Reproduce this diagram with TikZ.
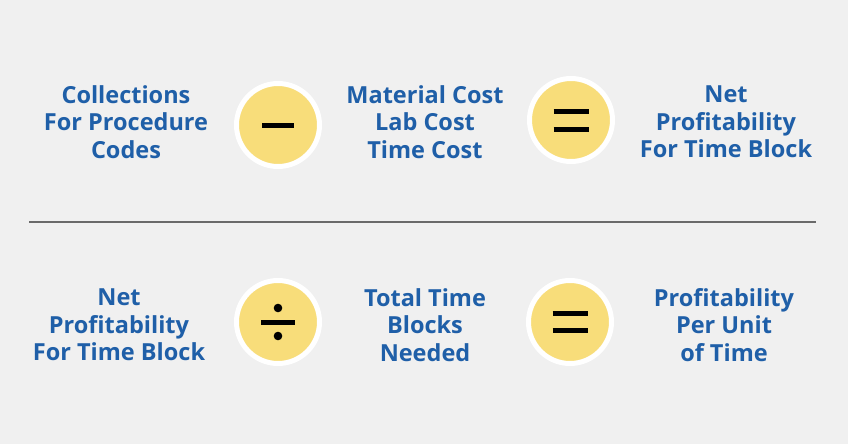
\documentclass[tikz,border=0pt]{standalone}
\usepackage{fontspec}
\setmainfont{Open Sans}
\begin{document}
\begin{tikzpicture}[x=1pt,y=-1pt,
  lbl/.style={align=center,text=txtblue,font=\fontsize{23.5}{27.5}\selectfont\bfseries,inner sep=0pt},
  opcircle/.style={circle,fill=opyellow,draw=white,line width=5pt,minimum size=83pt,inner sep=0pt},
  bar/.style={line width=5pt,black}]
\definecolor{bg}{HTML}{F0F0F0}
\definecolor{txtblue}{HTML}{1F5FA8}
\definecolor{opyellow}{HTML}{F8DD7A}
\definecolor{rule}{HTML}{6A6A6A}
\fill[bg] (0,0) rectangle (848,444);
\useasboundingbox (0,0) rectangle (848,444);
% top row
\node[lbl] (t1) at (126,122) {Collections\\For Procedure\\Codes};
\node[opcircle] (c1) at (278,125) {};
\node[lbl] (t2) at (425,122) {Material Cost\\Lab Cost\\Time Cost};
\node[opcircle] (c2) at (571,120) {};
\node[lbl] (t3) at (726,122) {Net\\Profitability\\For Time Block};
% minus
\draw[bar] ([xshift=-16pt]c1.center) -- ([xshift=16pt]c1.center);
% equals
\draw[bar] ([xshift=-17.5pt,yshift=-9pt]c2.center) -- ([xshift=17.5pt,yshift=-9pt]c2.center);
\draw[bar] ([xshift=-17.5pt,yshift=8.5pt]c2.center) -- ([xshift=17.5pt,yshift=8.5pt]c2.center);
% rule
\coordinate (r1) at (29,222);
\coordinate (r2) at (816,222);
\draw[rule,line width=1.3pt] (r1) -- (r2);
% bottom row
\node[lbl] (b1) at (119,325) {Net\\Profitability\\For Time Block};
\node[opcircle] (c3) at (278,322) {};
\node[lbl] (b2) at (425,325) {Total Time\\Blocks\\Needed};
\node[opcircle] (c4) at (570,322) {};
\node[lbl] (b3) at (724,325) {Profitability\\Per Unit\\of Time};
% divide
\draw[bar] ([xshift=-17pt]c3.center) -- ([xshift=17pt]c3.center);
\fill ([yshift=-14pt]c3.center) circle (4.3pt);
\fill ([yshift=14pt]c3.center) circle (4.3pt);
% equals
\draw[bar] ([xshift=-17.5pt,yshift=-8.5pt]c4.center) -- ([xshift=17.5pt,yshift=-8.5pt]c4.center);
\draw[bar] ([xshift=-17.5pt,yshift=8.5pt]c4.center) -- ([xshift=17.5pt,yshift=8.5pt]c4.center);
\end{tikzpicture}
\end{document}
